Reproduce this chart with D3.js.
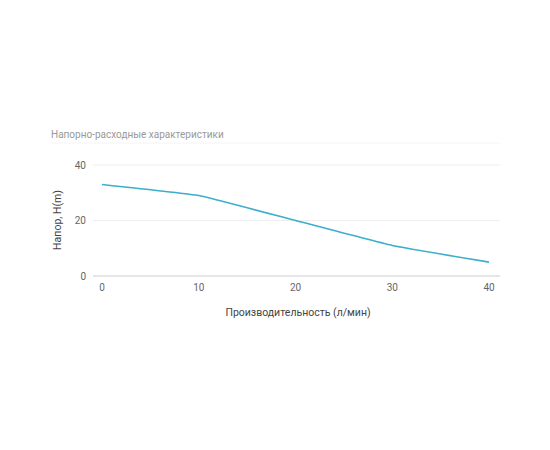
<!DOCTYPE html>
<html lang="ru">
<head>
<meta charset="UTF-8" />
<script src="https://d3js.org/d3.v7.min.js"></script>
<style>
  body { margin: 0; background: #fff; }
  text { font-family: Roboto, "Noto Sans", sans-serif; }
</style>
</head>
<body>
<svg id="chart" width="550" height="450"></svg>
<script>
// Data
const flow = [0, 10, 20, 30, 40];
const head = [33, 29, 20, 11, 5];
const xTicks = [0, 10, 20, 30, 40];
const yTicks = [0, 20, 40];

const svg = d3.select("#chart");

const x = d3.scaleLinear().domain([0, 40]).range([102, 489]);
const y = d3.scaleLinear().domain([0, 40]).range([276, 165]);
const left = 93, right = 500;

// title
svg.append("text").attr("x", 51).attr("y", 138).attr("font-size", 10).attr("fill", "#999")
  .text("Напорно-расходные характеристики");
svg.append("line").attr("x1", 51).attr("x2", right).attr("y1", 143).attr("y2", 143)
  .attr("stroke", "#f4f4f4");

// grid + y labels
svg.selectAll(".grid").data(yTicks).enter().append("line")
  .attr("x1", left).attr("x2", right)
  .attr("y1", d => y(d)).attr("y2", d => y(d))
  .attr("stroke", d => d === 0 ? "#ccc" : "#eee");
svg.selectAll(".ylab").data(yTicks).enter().append("text")
  .attr("x", 86).attr("y", d => y(d)).attr("dy", "0.35em")
  .attr("text-anchor", "end").attr("font-size", 10).attr("fill", "#666")
  .text(d => d);

// x labels
svg.selectAll(".xlab").data(xTicks).enter().append("text")
  .attr("x", d => x(d)).attr("y", 287).attr("dy", "0.35em")
  .attr("text-anchor", "middle").attr("font-size", 10).attr("fill", "#666")
  .text(d => d);

// axis titles
svg.append("text").attr("x", 298).attr("y", 316).attr("text-anchor", "middle")
  .attr("font-size", 10.5).attr("fill", "#444").text("Производительность (л/мин)");
svg.append("text").attr("transform", "translate(61,220) rotate(-90)").attr("text-anchor", "middle")
  .attr("font-size", 10.5).attr("fill", "#444").text("Напор, H(m)");

// line
const pts = flow.map((f, i) => [f, head[i]]);
svg.append("path").datum(pts)
  .attr("fill", "none").attr("stroke", "#3aaecb").attr("stroke-width", 1.6)
  .attr("d", d3.line().x(d => x(d[0])).y(d => y(d[1])).curve(d3.curveCardinal.tension(0.7)));
</script>
</body>
</html>
